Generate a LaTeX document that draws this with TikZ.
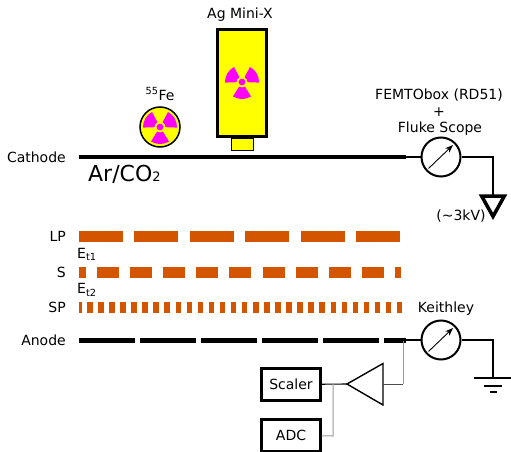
\documentclass[tikz,border=0pt]{standalone}
\usepackage{fontspec}
\setmainfont{DejaVu Sans}
\usepackage{tikz}
\usetikzlibrary{positioning, arrows.meta, calc}
\definecolor{foilorange}{HTML}{D45500}
\definecolor{srcyellow}{HTML}{FFFF00}
\definecolor{trefoil}{HTML}{FF00FF}
\tikzset{
    lbl/.style={inner sep=0pt, font=\fontsize{14}{16}\selectfont},
    rlbl/.style={lbl, anchor=east},
    foil/.style={fill=foilorange, draw=none},
    meter/.style={circle, draw, line width=2pt, minimum size=39pt, inner sep=0pt},
    wire/.style={line width=1.5pt},
    sigwire/.style={line width=1pt, draw=black!40},
    box/.style={draw, line width=2.3pt, minimum width=59pt, minimum height=32pt, inner sep=0pt, font=\fontsize{14}{16}\selectfont},
}
\newcommand{\radsign}[2]{
    \foreach \ang in {90,210,330} {
        \fill[trefoil] ($(#1,#2)+(\ang-32:5.5)$) arc[start angle=\ang-32, end angle=\ang+32, radius=5.5]
            -- ($(#1,#2)+(\ang+32:17)$) arc[start angle=\ang+32, end angle=\ang-32, radius=17] -- cycle;
    }
    \fill[trefoil] (#1,#2) circle (3.4);
}
\begin{document}
\begin{tikzpicture}[x=1pt, y=-1pt]
    \useasboundingbox (0,0) rectangle (511,452);

    % sources
    \node[circle, draw, fill=srcyellow, line width=1.5pt, minimum size=40pt, inner sep=0pt] (fe) at (160,127) {};
    \radsign{160}{127}
    \node[lbl] (felabel) at (160,94) {\textsuperscript{55}Fe};
    \node[draw, fill=srcyellow, line width=2.6pt, minimum width=49pt, minimum height=107pt, inner sep=0pt] (minix) at (242,83) {};
    \node[draw, fill=srcyellow, line width=1pt, minimum width=22pt, minimum height=12pt, inner sep=0pt, below=0pt of minix] (collimator) {};
    \radsign{242}{82}
    \node[lbl] (minixlabel) at (240,15) {Ag Mini-X};

    % cathode
    \coordinate (cathL) at (79,157);
    \coordinate (cathR) at (406,157);
    \draw[line width=4.2pt] (cathL) -- (cathR);
    \node[rlbl] (cathode) at (66,157) {Cathode};
    \node[lbl, anchor=west, font=\fontsize{22}{24}\selectfont] (gas) at (88,174) {Ar/CO{\fontsize{13}{14}\selectfont 2}};
    \node[meter] (femto) at (441,157) {};
    \draw[-{Stealth[length=8pt]}, line width=0.9pt] (femto.225) ++(2,-3) -- (453,145);
    \coordinate (hvtop) at (493,157);
    \coordinate (hvend) at (493,196);
    \draw[wire] (cathR) -- (femto);
    \draw[wire] (femto) -- (hvtop) -- (hvend);
    \draw[line width=3.5pt] (hvend) -- (481.6,196) -- (493,216.4) -- (504.4,196) -- cycle;
    \node[lbl] (femtolabel) at (439,95) {FEMTObox (RD51)};
    \node[lbl] (plus) at (439,112) {+};
    \node[lbl] (fluke) at (440,129) {Fluke Scope};
    \node[lbl] (hv) at (461,216) {(\textasciitilde3kV)};

    % foils
    \foreach \x in {0,...,5}
        \fill[foil] ({79+55.4*\x},230.5) rectangle ++(44,11);
    \fill[foil] (79,266.5) rectangle (86,277.5);
    \foreach \x in {0,...,8}
        \fill[foil] ({97+33.1*\x},266.5) rectangle ++(22,11);
    \fill[foil] (395,266.5) rectangle (401,277.5);
    \fill[foil] (79,301.5) rectangle (81.5,312.5);
    \foreach \x in {0,...,28}
        \fill[foil] ({87+11.07*\x},301.5) rectangle ++(5.5,11);
    \node[rlbl] (lp) at (66,236) {LP};
    \node[rlbl] (s) at (66,272) {S};
    \node[rlbl] (sp) at (66,307) {SP};
    \node[lbl, anchor=west] (et1) at (77,254) {E\textsubscript{t1}};
    \node[lbl, anchor=west] (et2) at (77,290) {E\textsubscript{t2}};

    % anode
    \foreach \x in {0,...,4}
        \fill ({79+61.1*\x},337.5) rectangle ++(56,5);
    \coordinate (anodeR) at (406,340);
    \fill (384,337.5) rectangle (406,342.5);
    \node[rlbl] (anode) at (66,340) {Anode};
    \node[meter] (keithley) at (441,340) {};
    \draw[-{Stealth[length=8pt]}, line width=0.9pt] (keithley.225) ++(2,-3) -- (453,328);
    \node[lbl] (keithleylabel) at (446,309) {Keithley};
    \coordinate (gndtop) at (493,340);
    \coordinate (gnd) at (493,378);
    \draw[wire] (anodeR) -- (keithley);
    \draw[wire] (keithley) -- (gndtop) -- (gnd);
    \draw[wire] (474,378) -- (511,378);
    \draw[wire] (484,386) -- (502,386);
    \draw[wire] (490,392) -- (497,392);

    % readout
    \node[box] (scaler) at (291,384.5) {Scaler};
    \node[box] (adc) at (291,435.5) {ADC};
    \coordinate (amptip) at (347,384);
    \coordinate (ampin) at (383,384);
    \draw[line width=1.4pt, line join=miter] (amptip) -- (383,363.5) -- (383,405) -- cycle;
    \coordinate (tap) at (403,341);
    \coordinate (bend) at (403,384);
    \coordinate (adcjoin) at (333,384);
    \coordinate (adcbend) at (333,436);
    \draw[sigwire] (tap) -- (bend);
    \draw[line width=0.9pt, draw=black!70] (bend) -- (ampin);
    \draw[line width=1.1pt] (scaler) -- (amptip);
    \draw[sigwire] (adcjoin) -- (adcbend) -- (adc);
\end{tikzpicture}
\end{document}
